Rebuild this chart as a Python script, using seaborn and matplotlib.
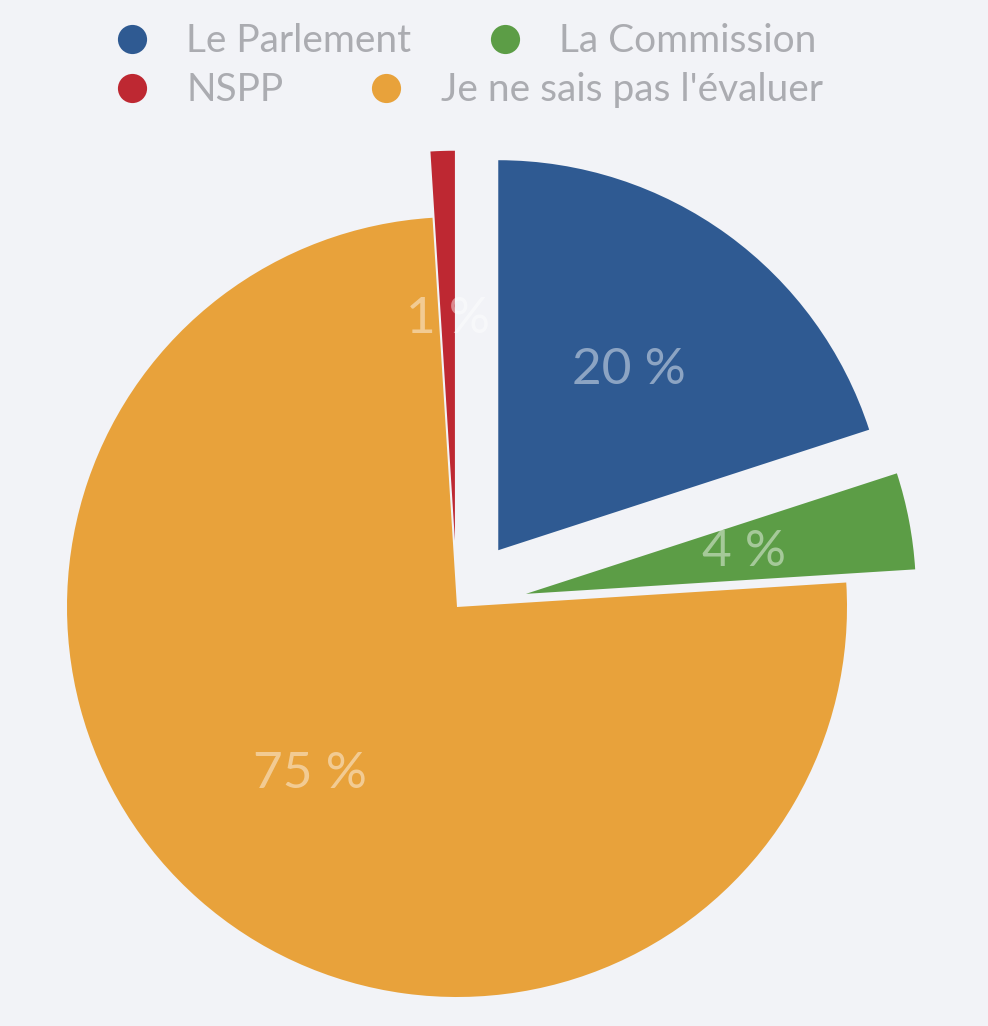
import matplotlib.pyplot as plt
from matplotlib.lines import Line2D
import seaborn as sns

# donnees du camembert (ordre horaire depuis le haut)
categories = ["Le Parlement", "La Commission", "Je ne sais pas l'évaluer", "NSPP"]
valeurs = [20, 4, 75, 1]
couleurs = ["#2F5A92", "#5C9D46", "#E8A23B", "#BE2832"]
ecarts = [0.18, 0.18, 0.0, 0.17]

# ordre de la legende (deux lignes)
ligne1 = ["Le Parlement", "La Commission"]
ligne2 = ["NSPP", "Je ne sais pas l'évaluer"]

sns.set_theme(style="white")
plt.rcParams['font.family'] = ['Lato', 'DejaVu Sans']

fond = "#F2F3F7"
fig = plt.figure(figsize=(9.88, 10.26), dpi=100, facecolor=fond)
ax = fig.add_axes([0, 0, 1, 1])
ax.set_facecolor(fond)

wedges, textes, pcts = ax.pie(
    valeurs, colors=couleurs, explode=ecarts, startangle=90,
    counterclock=False, radius=1.0,
    autopct=lambda p: f"{p:.0f} %", pctdistance=0.57,
    wedgeprops=dict(linewidth=0),
    textprops=dict(color="white", alpha=0.45, fontsize=37),
)

ax.set_aspect("equal")
ax.set_xlim(-457 / 390, (988 - 457) / 390)
ax.set_ylim(-419 / 390, 607 / 390)
ax.axis("off")

coul = dict(zip(categories, couleurs))


def poignees(noms):
    return [Line2D([], [], marker="o", linestyle="none", markersize=21,
                   markerfacecolor=coul[n], markeredgecolor="none") for n in noms]


for noms, y, esp in [(ligne1, 1.004, 1.9), (ligne2, 0.956, 2.15)]:
    fig.legend(poignees(noms), noms, ncol=2, loc="upper left",
               bbox_to_anchor=(0.086, y), frameon=False, fontsize=28,
               labelcolor="#ABACB1", columnspacing=esp, handletextpad=0.9,
               handlelength=1.0, borderpad=0.2)

fig.savefig("out.png", dpi=100, facecolor=fond)
